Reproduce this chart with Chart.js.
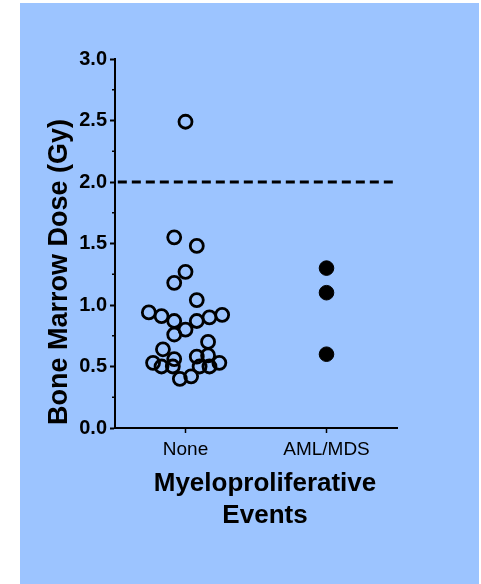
<!DOCTYPE html>
<html>
<head>
<meta charset="utf-8">
<script src="https://cdn.jsdelivr.net/npm/chart.js@4"></script>
<style>
  body { margin: 0; background: #ffffff; }
  #panel { position: absolute; left: 20px; top: 3px; width: 459px; height: 581px; background: #9cc4ff; }
</style>
</head>
<body>
<div id="panel"><canvas id="doseChart" width="459" height="581"></canvas></div>
<script>
// groups on the x axis (linear 0..2, groups centred at 0.5 and 1.5)
const categories = ["None", "AML/MDS"];
const categoryPos = [0.5, 1.5];

// no myeloproliferative event (open circles)
const noneX = [0.50, 0.42, 0.58, 0.50, 0.42, 0.58, 0.24, 0.33, 0.42, 0.58, 0.67, 0.76, 0.50, 0.42,
               0.66, 0.34, 0.42, 0.58, 0.66, 0.27, 0.33, 0.41, 0.60, 0.67, 0.74, 0.46, 0.54];
const noneY = [2.49, 1.55, 1.48, 1.27, 1.18, 1.04, 0.94, 0.91, 0.87, 0.87, 0.90, 0.92, 0.80, 0.76,
               0.70, 0.64, 0.56, 0.58, 0.59, 0.53, 0.50, 0.50, 0.50, 0.50, 0.53, 0.40, 0.42];

// AML/MDS (filled circles)
const amlX = [1.5, 1.5, 1.5];
const amlY = [1.30, 1.10, 0.60];

// dashed threshold
const threshold = 2.0;
const thresholdX = [0.02, 1.99];

const yMajor = [0, 0.5, 1.0, 1.5, 2.0, 2.5, 3.0];
const yMinor = [0.25, 0.75, 1.25, 1.75, 2.25, 2.75];

const font = "'Liberation Sans', Arial, sans-serif";

const minorTicks = {
    id: "minorTicks",
    afterDraw(chart) {
        const c = chart.ctx, y = chart.scales.y, left = chart.chartArea.left;
        c.save();
        c.strokeStyle = "#000";
        c.lineWidth = 1.5;
        yMinor.forEach(v => {
            const py = y.getPixelForValue(v);
            c.beginPath();
            c.moveTo(left - 3, py);
            c.lineTo(left, py);
            c.stroke();
        });
        c.restore();
    }
};

const axisTitles = {
    id: "axisTitles",
    afterDraw(chart) {
        const c = chart.ctx, a = chart.chartArea;
        c.save();
        c.fillStyle = "#000";
        c.textAlign = "center";
        c.textBaseline = "alphabetic";
        c.font = "bold 26px " + font;
        c.fillText("Myeloproliferative", a.left + 150, a.bottom + 63);
        c.fillText("Events", a.left + 150, a.bottom + 95);
        c.font = "bold 27px " + font;
        c.translate(a.left - 55, a.top + 213);
        c.rotate(-Math.PI / 2);
        c.textBaseline = "middle";
        c.fillText("Bone Marrow Dose (Gy)", 0, 0);
        c.restore();
    }
};

const ctx = document.getElementById("doseChart");

new Chart(ctx, {
    type: "scatter",
    data: {
        datasets: [
            {
                label: "None",
                data: noneX.map((x, i) => ({ x: x, y: noneY[i] })),
                pointRadius: 6.5,
                pointBorderWidth: 2.8,
                pointBackgroundColor: "rgba(0,0,0,0)",
                pointBorderColor: "#000"
            },
            {
                label: "AML/MDS",
                data: amlX.map((x, i) => ({ x: x, y: amlY[i] })),
                pointRadius: 7.3,
                pointBorderWidth: 1,
                pointBackgroundColor: "#000",
                pointBorderColor: "#000"
            },
            {
                type: "line",
                label: "2 Gy",
                data: thresholdX.map(x => ({ x: x, y: threshold })),
                borderColor: "#000",
                borderWidth: 3,
                borderDash: [9, 5],
                pointRadius: 0,
                fill: false
            }
        ]
    },
    options: {
        responsive: false,
        animation: false,
        layout: { padding: { top: 56, right: 82, left: 0, bottom: 0 } },
        plugins: {
            legend: { display: false },
            tooltip: { enabled: false }
        },
        scales: {
            x: {
                type: "linear",
                min: 0,
                max: 2,
                afterFit: s => { s.height = 156; },
                afterBuildTicks: s => { s.ticks = categoryPos.map(v => ({ value: v })); },
                border: { color: "#000", width: 2 },
                grid: { drawOnChartArea: false, drawTicks: true, tickLength: 5, color: "#000", tickWidth: 1.5 },
                ticks: {
                    color: "#000",
                    padding: 5,
                    font: { family: font, size: 19 },
                    callback: v => categories[categoryPos.indexOf(v)]
                }
            },
            y: {
                min: 0,
                max: 3,
                afterFit: s => { s.width = 95; },
                afterBuildTicks: s => { s.ticks = yMajor.map(v => ({ value: v })); },
                border: { color: "#000", width: 2 },
                grid: { drawOnChartArea: false, drawTicks: true, tickLength: 5, color: "#000", tickWidth: 2 },
                ticks: {
                    color: "#000",
                    padding: 3,
                    font: { family: font, size: 20, weight: "bold" },
                    callback: v => v.toFixed(1)
                }
            }
        }
    },
    plugins: [minorTicks, axisTitles]
});
</script>
</body>
</html>
